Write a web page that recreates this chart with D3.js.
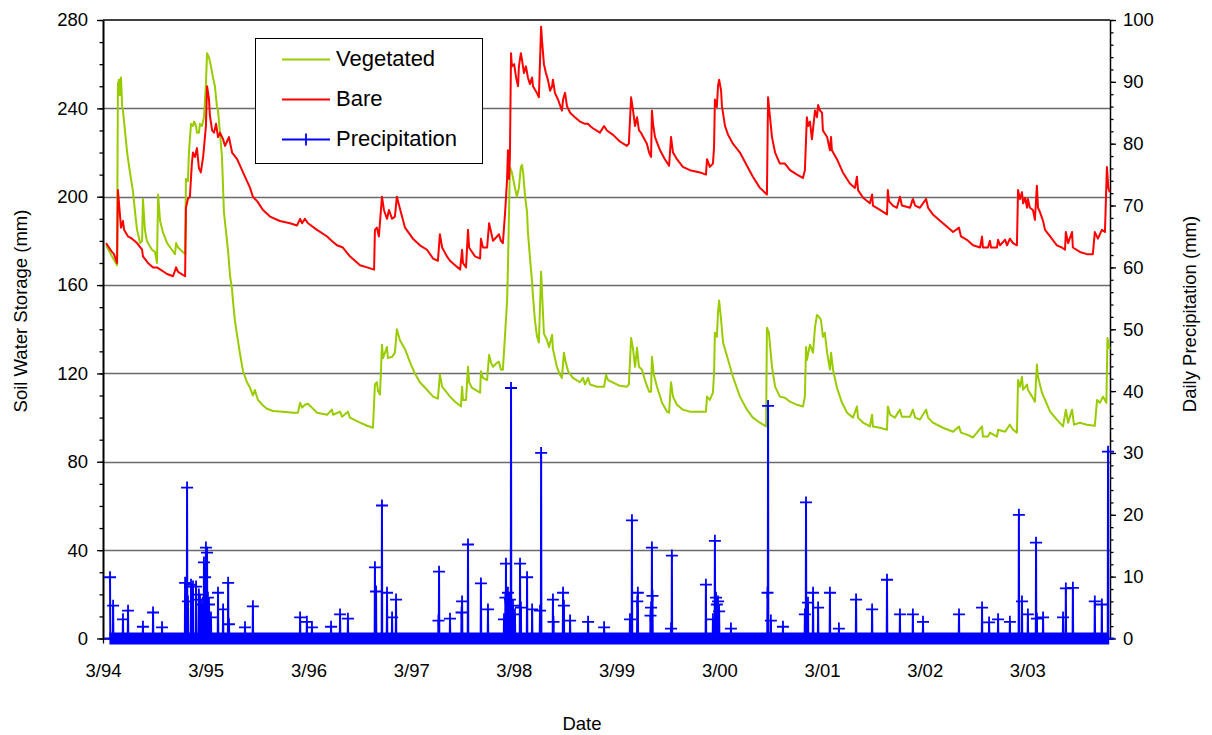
<!DOCTYPE html>
<html>
<head>
<meta charset="utf-8">
<title>Soil water storage and daily precipitation</title>
<script src="https://cdn.jsdelivr.net/npm/d3@7"></script>
<style>
  html, body { margin: 0; padding: 0; background: #ffffff; }
  svg { display: block; }
  text { font-family: Arial, "Liberation Sans", Helvetica, sans-serif; fill: #000; }
</style>
</head>
<body>
<svg id="chart" width="1212" height="735"></svg>
<script>
// ---- Record period: day 0 is 1 March 1994 ----
const recordStart = new Date(1994, 2, 1);
const recordLastDay = 3581;

// Axis ticks and labels
const dateTickLabels = ["3/94", "3/95", "3/96", "3/97", "3/98", "3/99", "3/00", "3/01", "3/02", "3/03"];
const storageTicks = [0, 40, 80, 120, 160, 200, 240, 280];
const storageMinorTicks = d3.range(0, 281, 10);
const rainTicks = [0, 10, 20, 30, 40, 50, 60, 70, 80, 90, 100];
const rainMinorTicks = d3.range(0, 101, 2);

// Soil water storage, vegetated plot: [day of record, mm]
const vegetated = [
  [11,178],[32,173],[50,169],[53,251],[57,253],[60,246],[64,254],[68,241],[71,239],[78,230],[85,221],[89,217],
  [96,211],[107,202],[114,193],[121,185],[132,179],[139,180],[142,199],[149,185],[156,180],[174,176],[185,175],
  [192,170],[196,201],[203,189],[213,184],[228,179],[245,176],[256,174],[260,179],[267,177],[284,175],[292,174],
  [295,208],[299,208],[302,207],[306,221],[313,233],[320,232],[324,234],[331,232],[334,229],[341,229],[345,233],
  [352,232],[359,236],[366,251],[370,265],[377,263],[384,259],[391,254],[398,250],[405,241],[409,239],[416,229],
  [423,218],[427,204],[430,193],[441,180],[445,175],[452,164],[459,158],[462,153],[469,144],[476,138],[487,129],
  [498,121],[512,116],[523,113.5],[533,110],[540,112.5],[551,108],[569,105.5],[583,104],[605,103],[640,102.7],
  [676,102.2],[693,102.2],[701,106.7],[708,104.5],[718,105.8],[729,106.3],[743,104.5],[761,102.2],[797,101.3],
  [814,103.6],[818,101.3],[843,102.7],[850,100.4],[871,102.7],[878,100],[914,97.7],[939,96.3],[960,95.4],
  [967,115],[974,116],[978,112],[985,110.4],[992,133],[996,127],[1003,129.4],[1010,132],[1013,127],[1028,127.5],
  [1038,129.4],[1045,140],[1056,135],[1074,131],[1092,125],[1109,120],[1127,116],[1152,112.6],[1174,109.5],
  [1191,108.6],[1198,119.4],[1206,114],[1223,111.3],[1234,109.5],[1252,107.2],[1273,105],[1277,114],[1280,108],
  [1291,108],[1298,123],[1302,116],[1312,113.5],[1341,111.3],[1344,121],[1351,118],[1366,117],[1373,128.4],
  [1380,124.8],[1387,123],[1401,124.8],[1408,125.3],[1415,121.7],[1422,121.7],[1430,138],[1437,153],[1440,168],
  [1447,213.5],[1454,211],[1465,204],[1472,200],[1479,204],[1486,213.5],[1490,214.4],[1494,211],[1501,200],
  [1508,193],[1511,184],[1518,173],[1526,161],[1529,155],[1536,144],[1543,137],[1550,134],[1558,166],[1565,146],
  [1568,138],[1579,135],[1586,132],[1597,137.5],[1600,131],[1614,123],[1625,119.4],[1632,118],[1639,129.4],
  [1646,124.8],[1654,121],[1671,118],[1696,116],[1707,118],[1714,115],[1725,118],[1732,115],[1757,114],
  [1782,114],[1789,119.4],[1796,117],[1814,115.8],[1838,114.4],[1863,114],[1870,115],[1878,136],[1885,131],
  [1892,123],[1899,131.6],[1906,123],[1917,121.7],[1927,117],[1942,111.7],[1949,111.7],[1952,127.5],[1959,119.4],
  [1970,114],[1988,106.7],[2006,102.7],[2013,102.2],[2020,116],[2027,109.5],[2041,105.8],[2062,103.6],[2087,102.7],
  [2144,102.7],[2148,109.5],[2158,108],[2169,111.3],[2173,120.3],[2176,138.4],[2183,136.6],[2187,147.5],[2191,153],
  [2198,144.3],[2205,134],[2230,123],[2240,118.5],[2265,109.5],[2290,103.6],[2311,100],[2336,97.7],[2358,96],
  [2361,140.7],[2368,138.4],[2379,123],[2390,114],[2407,109.5],[2425,109],[2443,107.2],[2468,105.8],[2489,105],
  [2496,109.5],[2500,132],[2503,126],[2514,133],[2525,129.4],[2532,141],[2539,146.5],[2546,145.6],[2553,144.3],
  [2560,136.6],[2567,138.4],[2575,129.4],[2585,121.7],[2589,129.4],[2596,121.7],[2610,113.5],[2628,106.7],
  [2646,102.2],[2667,100],[2681,105],[2685,100],[2703,97.7],[2727,96],[2735,101.3],[2738,96],[2763,95.4],
  [2788,94.5],[2791,105],[2799,101.3],[2816,100],[2834,103.6],[2841,100.4],[2870,100.4],[2880,103.6],[2888,100],
  [2905,99.1],[2927,103.6],[2934,100],[2951,97.7],[2987,95.4],[3023,93.6],[3044,96],[3051,93.2],[3072,92.3],
  [3094,91],[3126,96],[3129,91.4],[3147,91.4],[3154,93.2],[3179,91.4],[3183,94.5],[3208,93.6],[3225,96.8],
  [3236,94.5],[3250,93.2],[3254,117],[3261,114],[3268,118.5],[3272,112.6],[3286,115],[3289,112.6],[3304,109.5],
  [3314,107.2],[3321,124],[3325,118.5],[3339,111.3],[3350,108],[3368,102.7],[3392,99.1],[3414,96],[3424,103.6],
  [3432,97.7],[3446,103.6],[3453,96.8],[3474,97.7],[3499,96.8],[3527,96.3],[3535,108],[3545,106.7],[3556,109.5],
  [3568,106.7],[3572,136],[3580,131]
];

// Soil water storage, bare plot: [day of record, mm]
const bare = [
  [11,179],[32,175],[39,174],[50,170],[53,203],[64,186],[71,189],[75,185],[89,182],[103,181],[121,179],[139,176],
  [142,173],[160,170],[178,168],[192,168],[228,165],[249,164],[260,168],[267,166],[292,164],[295,195],[302,199],
  [309,200],[316,215],[320,220],[327,218],[334,222],[341,213],[348,211],[356,218],[359,222],[366,232],[370,250],
  [377,244],[380,237],[388,230],[395,229],[402,233],[409,227],[416,229],[427,226],[434,223],[441,225],[448,227],
  [459,220],[477,217],[498,211],[523,204],[533,200],[548,198],[569,194],[594,191],[629,189],[665,188],[690,187],
  [701,190],[708,188],[718,190],[729,188],[761,185],[797,182],[814,180],[832,178],[853,177],[878,173],[914,169],
  [939,168],[964,167],[967,185],[974,186],[981,182],[992,200],[999,194],[1010,190],[1017,194],[1028,190],
  [1038,191],[1045,200],[1053,196],[1074,186],[1102,181],[1127,178],[1152,176],[1174,172],[1191,171],[1198,183],
  [1206,177],[1223,173],[1234,171],[1252,169],[1270,167],[1277,176],[1280,170],[1291,168],[1298,185],[1302,177],
  [1312,175],[1323,173],[1341,172],[1344,181],[1351,177],[1366,177],[1373,188],[1380,184],[1387,180],[1401,182],
  [1408,183],[1415,180],[1422,179],[1430,193],[1437,208],[1440,221],[1444,208],[1447,218],[1451,265],[1454,259],
  [1462,260],[1469,254],[1476,250],[1479,259],[1486,265],[1490,262],[1497,256],[1504,259],[1511,254],[1518,251],
  [1526,254],[1529,250],[1543,247],[1550,245],[1558,277],[1561,271],[1568,260],[1575,256],[1582,253],[1590,248],
  [1597,250],[1600,253],[1607,247],[1618,244],[1632,239],[1636,244],[1643,247],[1650,241],[1661,238],[1678,236],
  [1696,234],[1714,233],[1725,233],[1732,232],[1742,231],[1767,229],[1782,232],[1792,230],[1814,228],[1838,225],
  [1863,223],[1870,224],[1878,245],[1885,239],[1892,232],[1899,236],[1906,230],[1913,229],[1934,224],[1942,220],
  [1949,218],[1952,239],[1956,233],[1963,227],[1981,221],[1998,217],[2013,214],[2020,227],[2027,220],[2041,217],
  [2062,213.5],[2087,212],[2123,211],[2144,210],[2148,217],[2158,213.5],[2169,215],[2173,222.5],[2176,244],
  [2183,240.6],[2187,250],[2191,253],[2198,248],[2201,241],[2212,232],[2223,228],[2240,224],[2265,220],[2290,214],
  [2311,209],[2336,204],[2361,201],[2365,245],[2368,241],[2379,227],[2390,220],[2407,215],[2425,215],[2443,212],
  [2468,210],[2489,208.5],[2496,212],[2503,236],[2507,232],[2514,234],[2521,226],[2532,239],[2539,236],
  [2543,241.5],[2550,239],[2557,238],[2560,230],[2575,227],[2585,221],[2589,227],[2592,221],[2610,217],[2631,211],
  [2656,206],[2674,204],[2681,209],[2685,203],[2703,199.5],[2727,197],[2735,201],[2738,196],[2763,194],[2788,192],
  [2791,203],[2795,198],[2809,196],[2823,195],[2834,200],[2841,196],[2870,195],[2880,199],[2888,196],[2905,195],
  [2927,199],[2934,195],[2951,192],[2987,188],[3023,184],[3044,186],[3051,182],[3072,180.5],[3094,178],[3119,177],
  [3126,182],[3129,177],[3147,177],[3154,180],[3158,177],[3179,177],[3183,180.5],[3190,178],[3208,180.5],
  [3215,178],[3225,181],[3236,179],[3250,178],[3254,203],[3261,199],[3268,202],[3272,197],[3279,199.5],[3286,195],
  [3289,199],[3296,195],[3307,194],[3314,189.5],[3321,205],[3325,195],[3332,193],[3343,189],[3350,185],[3368,182],
  [3392,178],[3410,177],[3421,176],[3424,184],[3432,179],[3446,184],[3449,177],[3474,175],[3499,174],[3520,174],
  [3527,184],[3538,181],[3552,185],[3563,184],[3570,213.5],[3575,204],[3580,202]
];

// Daily precipitation: days with rain, [day of record, mm]; every other recorded day is 0
const rainFirstDay = 25;
const rainLastDay = 3575;
const rainEvents = [
  [25,9.9],[36,5.3],[71,3.1],[89,4.5],[142,1.9],[178,4.2],[210,1.8],[292,9.0],[299,24.4],[302,6.0],[313,8.7],
  [320,8.4],[331,8.4],[341,7.1],[345,6.3],[352,5.5],[359,12.3],[363,9.9],[366,14.7],[370,13.9],[373,6.6],[377,5.5],
  [384,3.4],[409,7.4],[427,4.7],[445,9.0],[448,2.3],[505,1.8],[533,5.2],[701,3.4],[725,2.7],[743,1.8],[811,1.9],
  [843,3.9],[871,3.2],[967,11.5],[971,7.6],[992,21.5],[1010,7.4],[1028,3.4],[1042,6.3],[1193,2.9],[1195,10.8],
  [1234,3.2],[1275,4.2],[1277,6.0],[1298,15.2],[1344,8.9],[1369,4.7],[1426,3.1],[1431,6.6],[1433,12.1],[1440,7.4],
  [1447,6.3],[1451,40.5],[1458,5.3],[1465,3.9],[1483,12.1],[1486,5.0],[1508,9.9],[1526,4.7],[1554,4.5],[1558,30.0],
  [1600,6.3],[1602,2.7],[1636,7.4],[1639,5.3],[1661,2.9],[1725,2.7],[1782,1.8],[1874,3.1],[1881,19.1],[1900,6.0],
  [1902,7.4],[1947,3.7],[1949,5.0],[1952,14.7],[1954,6.9],[2020,1.6],[2023,13.4],[2144,8.7],[2169,3.1],[2176,15.8],
  [2180,6.6],[2183,5.5],[2187,6.0],[2191,4.4],[2233,1.6],[2363,7.4],[2365,37.6],[2375,2.9],[2418,1.9],[2496,3.9],
  [2500,22.0],[2507,5.8],[2525,7.4],[2543,5.0],[2585,7.4],[2617,1.6],[2678,6.3],[2735,4.7],[2788,9.5],[2834,3.9],
  [2880,3.9],[2916,2.7],[3044,3.9],[3126,5.0],[3151,2.6],[3183,3.1],[3225,2.7],[3257,20.0],[3268,6.0],[3289,3.9],
  [3318,15.5],[3321,3.2],[3343,3.4],[3414,3.4],[3424,8.1],[3449,8.2],[3527,6.0],[3552,5.5],[3574,30.2]
];

// ---- Layout ----
const svg = d3.select("#chart");
const plot = { left: 103, right: 1110, top: 20, bottom: 638.5 };
const dayToDate = d => d3.timeDay.offset(recordStart, d);

const x = d3.scaleTime()
  .domain([recordStart, dayToDate(recordLastDay)])
  .range([plot.left, plot.right]);
const yStore = d3.scaleLinear().domain([0, 280]).range([plot.bottom, plot.top]);
const yRain = d3.scaleLinear().domain([0, 100]).range([plot.bottom, plot.top]);

const parseTick = d3.timeParse("%m/%y");
const dateTicks = dateTickLabels.map(parseTick);

// Horizontal gridlines on the storage axis
svg.append("g").selectAll("line")
  .data(storageTicks.filter(v => v > 0 && v < 280))
  .join("line")
  .attr("x1", plot.left).attr("x2", plot.right)
  .attr("y1", d => Math.round(yStore(d)) + 0.5).attr("y2", d => Math.round(yStore(d)) + 0.5)
  .attr("stroke", "#6a6a6a").attr("stroke-width", 1.3);

// Top frame line
svg.append("line")
  .attr("x1", plot.left).attr("x2", plot.right)
  .attr("y1", yStore(280)).attr("y2", yStore(280))
  .attr("stroke", "#000").attr("stroke-width", 1.5);

// ---- Axes ----
const fontSize = 18.5;

// Left axis: minor ticks, then major ticks with labels
const leftMinor = svg.append("g").attr("transform", `translate(${plot.left},0)`)
  .call(d3.axisLeft(yStore).tickValues(storageMinorTicks).tickSize(3.5).tickFormat("").tickSizeOuter(0));
leftMinor.select(".domain").remove();
const leftAxis = svg.append("g").attr("transform", `translate(${plot.left},0)`)
  .call(d3.axisLeft(yStore).tickValues(storageTicks).tickSize(6).tickPadding(9).tickSizeOuter(0));
leftAxis.select(".domain").attr("stroke-width", 2);

// Right axis: precipitation
const rightMinor = svg.append("g").attr("transform", `translate(${plot.right},0)`)
  .call(d3.axisRight(yRain).tickValues(rainMinorTicks).tickSize(3.5).tickFormat("").tickSizeOuter(0));
rightMinor.select(".domain").remove();
const rightAxis = svg.append("g").attr("transform", `translate(${plot.right},0)`)
  .call(d3.axisRight(yRain).tickValues(rainTicks).tickSize(6).tickPadding(7).tickSizeOuter(0));
rightAxis.select(".domain").attr("stroke-width", 1.5);

// Bottom axis: dates
const fmt = d3.timeFormat("%-m/%y");
const bottomAxis = svg.append("g").attr("transform", `translate(0,${plot.bottom})`)
  .call(d3.axisBottom(x).tickValues(dateTicks).tickFormat(d => {
    const s = fmt(d);
    return s.replace(/^(\d+)\/(\d)$/, "$1/0$2");
  }).tickSize(5).tickPadding(20).tickSizeOuter(0));
bottomAxis.select(".domain").attr("stroke-width", 1.5);

[leftMinor, leftAxis, rightMinor, rightAxis, bottomAxis].forEach(g => {
  g.selectAll(".tick line").attr("stroke", "#000").attr("stroke-width", 1.3);
  g.selectAll("text").attr("font-size", fontSize).attr("font-family", "Arial, 'Liberation Sans', sans-serif").attr("fill", "#000");
  g.select(".domain").attr("stroke", "#000");
});

// Axis titles
svg.append("text")
  .attr("transform", "translate(27,311) rotate(-90)")
  .attr("text-anchor", "middle").attr("font-size", fontSize)
  .text("Soil Water Storage (mm)");
svg.append("text")
  .attr("transform", "translate(1196,314) rotate(-90)")
  .attr("text-anchor", "middle").attr("font-size", fontSize)
  .text("Daily Precipitation (mm)");
svg.append("text")
  .attr("x", 582).attr("y", 730)
  .attr("text-anchor", "middle").attr("font-size", fontSize)
  .text("Date");

// ---- Series ----
const storageLine = d3.line()
  .x(d => x(dayToDate(d[0])))
  .y(d => yStore(d[1]));

svg.append("path").datum(vegetated)
  .attr("d", storageLine)
  .attr("fill", "none").attr("stroke", "#99CC00").attr("stroke-width", 2)
  .attr("stroke-linejoin", "round");

svg.append("path").datum(bare)
  .attr("d", storageLine)
  .attr("fill", "none").attr("stroke", "#FF0000").attr("stroke-width", 2)
  .attr("stroke-linejoin", "round");

// Daily precipitation series: every recorded day, rain amount or 0
const rainByDay = new Map(rainEvents);
const rainDaily = d3.range(rainFirstDay, rainLastDay + 1).map(d => [d, rainByDay.get(d) || 0]);

const rainLine = d3.line()
  .x(d => x(dayToDate(d[0])))
  .y(d => yRain(d[1]));

svg.append("path").datum(rainDaily)
  .attr("d", rainLine)
  .attr("fill", "none").attr("stroke", "#0000FF").attr("stroke-width", 2)
  .attr("stroke-linejoin", "bevel");

// Plus-sign markers for every daily value
const markerHalf = 6;
const markerPath = rainDaily.map(d => {
  const px = x(dayToDate(d[0])), py = yRain(d[1]);
  return `M${(px - markerHalf).toFixed(2)},${py.toFixed(2)}h${2 * markerHalf}M${px.toFixed(2)},${(py - markerHalf).toFixed(2)}v${2 * markerHalf}`;
}).join("");
svg.append("path")
  .attr("d", markerPath)
  .attr("fill", "none").attr("stroke", "#0000FF").attr("stroke-width", 1.8);

// ---- Legend ----
const legendItems = [
  { label: "Vegetated", color: "#99CC00", marker: false },
  { label: "Bare", color: "#FF0000", marker: false },
  { label: "Precipitation", color: "#0000FF", marker: true }
];
const legend = svg.append("g").attr("transform", "translate(255,38)");
legend.append("rect")
  .attr("x", 0.5).attr("y", 0.5).attr("width", 227).attr("height", 125)
  .attr("fill", "#fff").attr("stroke", "#000").attr("stroke-width", 1);
const rows = legend.selectAll("g.item").data(legendItems).join("g")
  .attr("class", "item")
  .attr("transform", (d, i) => `translate(0,${21.5 + i * 40})`);
rows.append("line")
  .attr("x1", 27).attr("x2", 75).attr("y1", 0).attr("y2", 0)
  .attr("stroke", d => d.color).attr("stroke-width", 2);
rows.filter(d => d.marker).append("path")
  .attr("d", `M51,${-markerHalf}v${2 * markerHalf}`)
  .attr("stroke", d => d.color).attr("stroke-width", 1.8);
rows.append("text")
  .attr("x", 81).attr("y", 6.5)
  .attr("font-size", 22)
  .text(d => d.label);
</script>
</body>
</html>
